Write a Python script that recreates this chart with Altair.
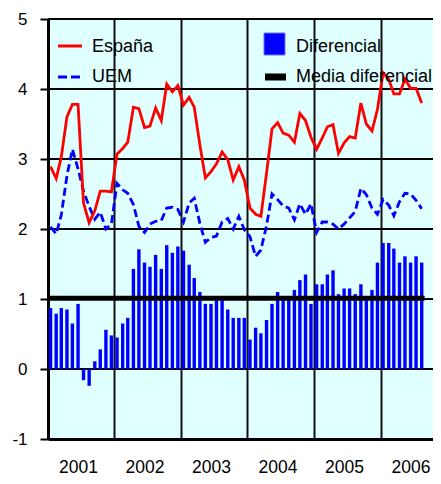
import altair as alt
import pandas as pd

# Monthly data, Jan 2001 .. Aug 2006
meses = pd.date_range("2001-01-01", periods=68, freq="MS") + pd.Timedelta(days=14)

espana = [
    2.89, 2.72, 3.03, 3.60, 3.78, 3.78, 2.37, 2.09, 2.26, 2.54, 2.54, 2.53,
    3.07, 3.15, 3.24, 3.74, 3.72, 3.45, 3.47, 3.73, 3.55, 4.07, 3.96, 4.05,
    3.77, 3.88, 3.74, 3.20, 2.73, 2.82, 2.93, 3.10, 2.99, 2.70, 2.89, 2.70,
    2.30, 2.21, 2.18, 2.80, 3.43, 3.52, 3.37, 3.34, 3.24, 3.65, 3.55, 3.31,
    3.14, 3.30, 3.46, 3.49, 3.08, 3.23, 3.32, 3.30, 3.80, 3.50, 3.40, 3.71,
    4.23, 4.14, 3.93, 3.93, 4.14, 4.01, 4.01, 3.80,
]
uem = [
    2.03, 1.93, 2.20, 2.76, 3.14, 2.86, 2.54, 2.32, 2.14, 2.24, 2.00, 2.07,
    2.65, 2.56, 2.51, 2.35, 2.04, 1.95, 2.07, 2.11, 2.12, 2.30, 2.31, 2.28,
    2.10, 2.37, 2.44, 2.08, 1.81, 1.88, 1.90, 2.10, 2.15, 2.00, 2.18, 1.99,
    1.89, 1.61, 1.70, 2.05, 2.50, 2.42, 2.33, 2.30, 2.13, 2.36, 2.21, 2.36,
    1.95, 2.10, 2.10, 2.07, 2.00, 2.07, 2.16, 2.25, 2.58, 2.49, 2.30, 2.21,
    2.42, 2.34, 2.19, 2.39, 2.51, 2.50, 2.41, 2.29,
]
diferencial = [
    0.87, 0.79, 0.87, 0.85, 0.65, 0.93, -0.16, -0.24, 0.11, 0.28, 0.56, 0.48,
    0.45, 0.65, 0.73, 1.43, 1.71, 1.52, 1.46, 1.63, 1.43, 1.77, 1.66, 1.75,
    1.69, 1.49, 1.30, 1.10, 0.93, 0.93, 1.04, 1.01, 0.85, 0.73, 0.73, 0.73,
    0.42, 0.59, 0.51, 0.70, 0.93, 1.10, 1.04, 1.04, 1.13, 1.27, 1.35, 0.93,
    1.21, 1.21, 1.35, 1.41, 1.07, 1.15, 1.15, 1.07, 1.21, 1.01, 1.13, 1.52,
    1.80, 1.80, 1.72, 1.52, 1.61, 1.52, 1.61, 1.52,
]
media_diferencial = [1.01]
media_inicio = ["2001-01-01T00:00:00"]
media_fin = ["2006-08-31T00:00:00"]
anios = [2001, 2002, 2003, 2004, 2005, 2006]
y_ticks = [-1, 0, 1, 2, 3, 4, 5]
eje_inicio = "2001-01-01T00:00:00"
eje_fin = "2006-10-16T00:00:00"

df = pd.DataFrame({"fecha": meses, "espana": espana, "uem": uem, "dif": diferencial})
media_df = pd.DataFrame({"inicio": pd.to_datetime(media_inicio),
                         "fin": pd.to_datetime(media_fin),
                         "valor": media_diferencial})
grid_df = pd.DataFrame({"v": y_ticks,
                        "ini": pd.to_datetime([eje_inicio] * len(y_ticks)),
                        "fin": pd.to_datetime([eje_fin] * len(y_ticks))})

FONT = "Liberation Sans"

x_scale = alt.Scale(domain=[alt.DateTime(year=2001, month=1, date=1),
                            alt.DateTime(year=2006, month=10, date=16)],
                    padding=0, nice=False)
y_scale = alt.Scale(domain=[-1, 5], nice=False, zero=False, padding=0)

x_axis = alt.Axis(values=[alt.DateTime(year=a, month=1, date=1) for a in anios],
                  format="%Y", labelOffset=30, ticks=False,
                  grid=True, gridColor="#111111", gridWidth=2, gridOpacity=1,
                  domain=True, domainColor="black", domainWidth=3,
                  labelFont=FONT, labelFontSize=17.5, labelColor="black",
                  labelPadding=19, title=None, labelFlush=False, labelOverlap=False)
y_axis = alt.Axis(values=y_ticks, grid=False,
                  ticks=True, tickSize=8, tickWidth=2, tickColor="black",
                  domain=True, domainColor="black", domainWidth=3,
                  labelFont=FONT, labelFontSize=17, labelColor="black",
                  labelExpr="datum.value < 0 ? '-' + abs(datum.value) : '' + datum.value",
                  labelPadding=13, title=None)

X = alt.X("fecha:T", scale=x_scale, axis=x_axis)

hgrid = alt.Chart(grid_df).mark_rule(color="black", strokeWidth=2).encode(
    x=alt.X("ini:T", scale=x_scale, axis=x_axis), x2="fin:T",
    y=alt.Y("v:Q", scale=y_scale, axis=y_axis))

bars = alt.Chart(df).mark_bar(width=3.4, color="#0000FF").encode(
    x=X, y=alt.Y("dif:Q", scale=y_scale, axis=y_axis))

media = alt.Chart(media_df).mark_rule(color="black", strokeWidth=5).encode(
    x=alt.X("inicio:T", scale=x_scale, axis=x_axis), x2="fin:T",
    y=alt.Y("valor:Q", scale=y_scale, axis=y_axis))

line_uem = alt.Chart(df).mark_line(color="#0000FF", strokeWidth=2.8, strokeDash=[8, 4]).encode(
    x=X, y=alt.Y("uem:Q", scale=y_scale, axis=y_axis))

line_esp = alt.Chart(df).mark_line(color="#FF0000", strokeWidth=2.8).encode(
    x=X, y=alt.Y("espana:Q", scale=y_scale, axis=y_axis))

one = alt.Data(values=[{"k": 1}])

def leg_rule(x1, x2, y, color, width, dash=None):
    kw = dict(color=color, strokeWidth=width)
    if dash:
        kw["strokeDash"] = dash
    return alt.Chart(one).mark_rule(**kw).encode(
        x=alt.value(x1), x2=alt.value(x2), y=alt.value(y))

def leg_text(x, y, txt):
    return alt.Chart(one).mark_text(align="left", baseline="middle", font=FONT,
                                    fontSize=18, color="black").encode(
        x=alt.value(x), y=alt.value(y), text=alt.value(txt))

legend = [
    leg_rule(10, 34, 27, "#FF0000", 3),
    leg_text(44, 28, "España"),
    leg_rule(10, 34, 58, "#0000FF", 3, [9, 4]),
    leg_text(44, 58, "UEM"),
    alt.Chart(one).mark_rect(fill="#0000FF", stroke="#6f6fff", strokeWidth=1).encode(
        x=alt.value(216), x2=alt.value(237), y=alt.value(14), y2=alt.value(36)),
    leg_text(248, 28, "Diferencial"),
    leg_rule(217, 238, 58, "black", 7),
    leg_text(248, 58, "Media diferencial"),
]

chart = alt.layer(hgrid, bars, media, line_uem, line_esp, *legend).properties(
    width=385, height=420,
    background="white",
    autosize=alt.AutoSizeParams(type="none"),
    padding={"left": 40, "top": 11, "right": 0, "bottom": 37},
).configure_view(fill="#E0FFFF", stroke=None)

chart.save("out.html", embed_options={"renderer": "svg", "actions": False})
